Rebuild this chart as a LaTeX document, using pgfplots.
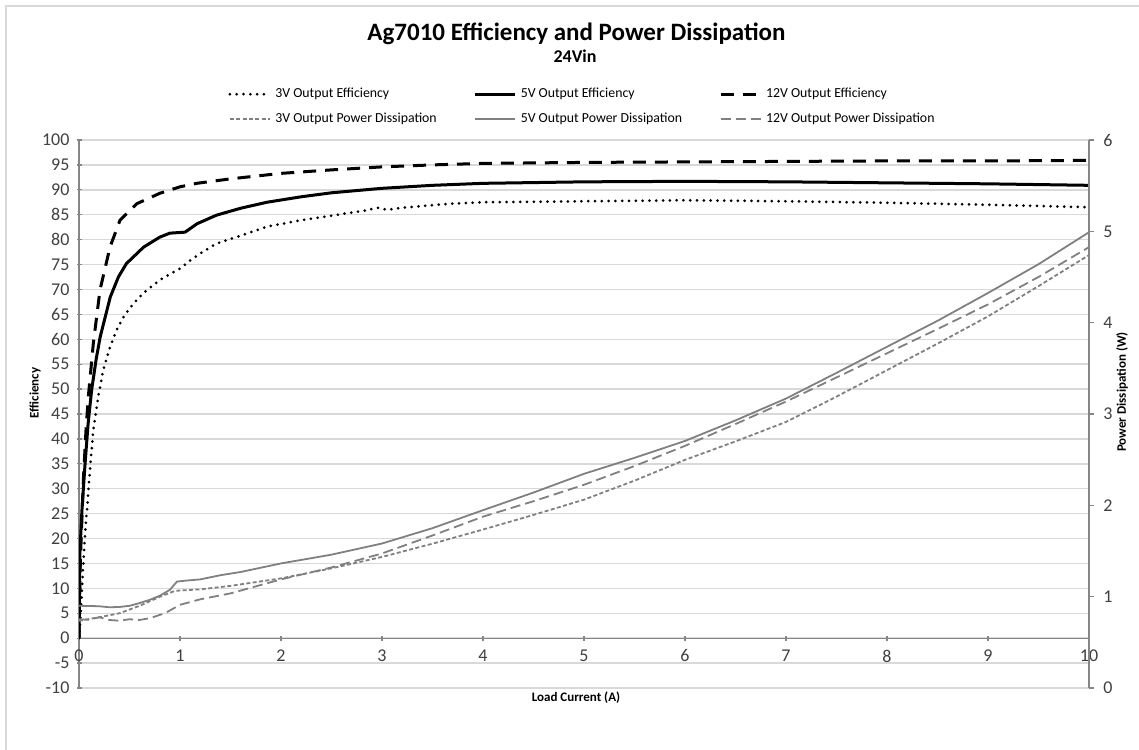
\documentclass[border=0pt]{standalone}
\usepackage{fontspec}
\setmainfont{Carlito}
\usepackage{pgfplots}
\usepackage{pgfplotstable}
\pgfplotsset{compat=1.18}

\definecolor{gridc}{RGB}{217,217,217}
\definecolor{axc}{RGB}{134,134,134}
\definecolor{pdc}{RGB}{128,128,128}
\definecolor{tickc}{RGB}{64,64,64}

% efficiency (%) vs load current (A)
\pgfplotstableread{
x y
0 0
0.02 6
0.04 14
0.06 21
0.08 26
0.11 34
0.14 41.5
0.19 48.5
0.24 53.8
0.30 58
0.37 61.8
0.45 64.8
0.54 67.2
0.65 69.5
0.8 71.9
1.0 74.2
1.1 75.8
1.2 77.2
1.36 79.2
1.6 80.8
1.86 82.6
2.2 83.9
2.5 84.8
2.85 85.9
2.95 86.4
3.05 86.0
3.2 86.4
3.67 87.2
4 87.5
5 87.7
6 87.9
7 87.7
8 87.4
9 87.0
10 86.5
}\effthree

\pgfplotstableread{
x y
0 0
0.01 17.7
0.03 26
0.06 35
0.09 43
0.125 49.8
0.17 56
0.21 60.5
0.31 68.5
0.39 72.5
0.47 75.2
0.64 78.5
0.8 80.5
0.9 81.3
1.05 81.5
1.17 83.2
1.36 84.9
1.6 86.3
1.86 87.5
2.2 88.6
2.5 89.4
3 90.3
3.5 90.9
4 91.3
5 91.6
6 91.7
7 91.6
8 91.4
9 91.2
10 90.9
}\efffive

\pgfplotstableread{
x y
0 0
0.01 13
0.02 19
0.043 31.7
0.07 42
0.092 48.4
0.142 59.2
0.208 69.9
0.307 78.5
0.406 83.9
0.571 87.2
0.8 89.3
1.0 90.6
1.165 91.3
1.5 92.2
2.0 93.3
2.5 94.0
3 94.6
3.5 95.0
4 95.3
5 95.5
6 95.6
7 95.7
8 95.8
9 95.8
10 95.9
}\efftwelve

% power dissipation (W)
\pgfplotstableread{
x y
0 0.736
0.2 0.775
0.4 0.818
0.6 0.900
0.8 0.998
0.95 1.064
1.2 1.080
1.5 1.118
2.0 1.200
2.5 1.310
3.0 1.435
3.5 1.580
4.0 1.735
4.5 1.895
5.0 2.062
5.5 2.270
6.0 2.498
6.5 2.700
7.0 2.913
7.5 3.190
8.0 3.480
8.5 3.770
9.0 4.069
9.5 4.400
10 4.740
}\pdthree

\pgfplotstableread{
x y
0 0.900
0.1 0.898
0.2 0.895
0.3 0.884
0.4 0.887
0.5 0.900
0.6 0.930
0.7 0.965
0.8 1.010
0.9 1.075
0.97 1.165
1.05 1.175
1.2 1.189
1.4 1.235
1.6 1.270
2.0 1.364
2.5 1.460
3.0 1.582
3.5 1.750
4.0 1.947
4.5 2.140
5.0 2.345
5.5 2.520
6.0 2.705
6.5 2.930
7.0 3.169
7.5 3.450
8.0 3.736
8.5 4.020
9.0 4.325
9.5 4.640
10 4.990
}\pdfive

\pgfplotstableread{
x y
0 0.753
0.1 0.747
0.2 0.775
0.3 0.745
0.4 0.736
0.5 0.753
0.6 0.745
0.7 0.764
0.85 0.818
1.0 0.911
1.2 0.971
1.5 1.036
2.0 1.189
2.5 1.320
3.0 1.473
3.5 1.670
4.0 1.876
4.5 2.045
5.0 2.225
5.5 2.430
6.0 2.651
6.5 2.890
7.0 3.136
7.5 3.400
8.0 3.665
8.5 3.930
9.0 4.200
9.5 4.500
10 4.827
}\pdtwelve

\pgfplotsset{
  common/.style={
    scale only axis, width=505pt, height=274pt,
    xmin=0, xmax=10,
    tick align=outside, major tick length=2.5pt,
    tick style={draw=axc, line width=0.6pt},
    ticklabel style={font=\fontsize{9}{10}\selectfont, text=tickc},
    /pgf/number format/assume math mode=true,
  },
  eff3/.style={black, line width=1.5pt, line cap=round, dash pattern=on 0pt off 3.4pt},
  eff5/.style={black, line width=1.5pt},
  eff12/.style={black, line width=1.5pt, dash pattern=on 6.5pt off 4.5pt},
  pd3/.style={pdc, line width=0.9pt, dash pattern=on 2pt off 1.2pt},
  pd5/.style={pdc, line width=0.9pt},
  pd12/.style={pdc, line width=0.9pt, dash pattern=on 5pt off 2.5pt},
}

\begin{document}
\begin{tikzpicture}
\draw[gridc, line width=0.6pt] (-36.5pt,-40pt) -- (-36.5pt,341pt) -- (540pt,341pt);

\begin{axis}[common,
  ymin=-10, ymax=100,
  axis x line=middle, axis y line=left,
  axis line style={-, draw=axc, line width=0.6pt},
  x axis line style={-}, y axis line style={-},
  xtick={0,...,10}, ytick={-10,-5,...,100},
  hide obscured x ticks=false,
  ymajorgrids, grid style={draw=gridc, line width=0.7pt},
  xticklabel style={yshift=-1pt},
]
\addplot[eff3] table {\effthree};
\addplot[eff5] table {\efffive};
\addplot[eff12] table {\efftwelve};
\end{axis}

\begin{axis}[common,
  ymin=0, ymax=6,
  axis x line=none, axis y line*=right,
  axis line style={-, draw=axc, line width=0.6pt},
  y axis line style={-},
  ytick={0,...,6},
  yticklabel style={xshift=1.2pt},
  legend columns=3,
  legend style={at={(0.1475,1.103)}, anchor=north west, draw=none, fill=none,
    inner sep=0pt, font=\fontsize{6.9}{8.3}\selectfont, text=black,
    row sep=2pt,
    /tikz/every even column/.append style={column sep=16.5pt}},
  legend cell align=left,
  legend image code/.code={\draw[#1] (0pt,0pt) -- (20pt,0pt);},
]
\addlegendimage{eff3}
\addlegendentry{3V Output Efficiency}
\addlegendimage{eff5}
\addlegendentry{5V Output Efficiency}
\addlegendimage{eff12}
\addlegendentry{12V Output Efficiency}
\addplot[pd3] table {\pdthree};
\addlegendentry{3V Output Power Dissipation}
\addplot[pd5] table {\pdfive};
\addlegendentry{5V Output Power Dissipation}
\addplot[pd12] table {\pdtwelve};
\addlegendentry{12V Output Power Dissipation}
\end{axis}

\node[font=\bfseries\fontsize{12.5}{15}\selectfont] at (248.75pt,327pt) {Ag7010 Efficiency and Power Dissipation};
\node[font=\bfseries\fontsize{9}{11}\selectfont] at (248pt,316pt) {24Vin};
\node[font=\bfseries\fontsize{6.5}{8}\selectfont] at (248.5pt,-5pt) {Load Current (A)};
\node[font=\bfseries\fontsize{6.5}{8}\selectfont, rotate=90] at (-22pt,147.5pt) {Efficiency};
\node[font=\bfseries\fontsize{6.5}{8}\selectfont, rotate=90] at (521.5pt,148pt) {Power Dissipation (W)};

\pgfresetboundingbox
\path[use as bounding box] (-39.5pt,-30.5pt) rectangle (530pt,344pt);
\end{tikzpicture}
\end{document}
